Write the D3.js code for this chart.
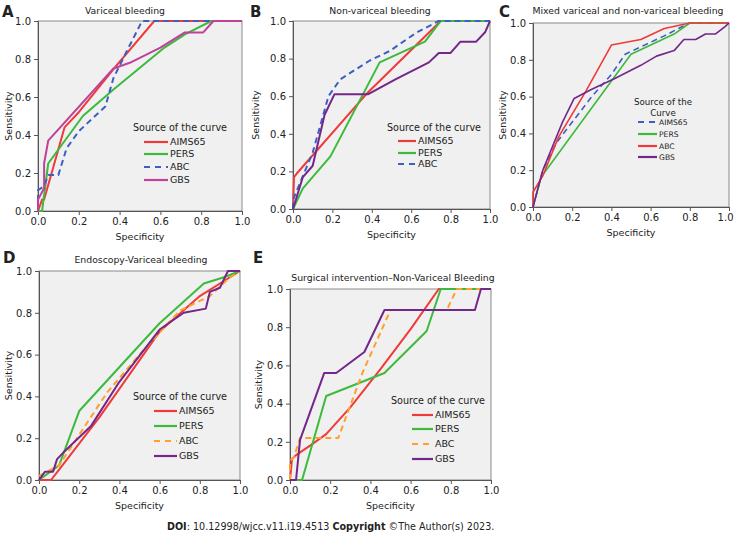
<!DOCTYPE html>
<html>
<head>
<meta charset="utf-8">
<script src="https://cdn.jsdelivr.net/npm/d3@7"></script>
<style>
  body { margin: 0; background: #fff; }
  text { font-family: "DejaVu Sans", Verdana, sans-serif; fill: #222; }
</style>
</head>
<body>
<div id="chart"></div>
<script>
// ticks shared by every panel
const tickValues = [0, 0.2, 0.4, 0.6, 0.8, 1.0]

// A - Variceal bleeding
const aAims65 = [[0,0],[0.02,0.06],[0.03,0.06],[0.13,0.44],[0.2,0.52],[0.38,0.76],[0.57,1],[1,1]]
const aPers = [[0,0],[0.02,0],[0.05,0.25],[0.22,0.5],[0.37,0.64],[0.62,0.86],[0.72,0.93],[0.85,1],[1,1]]
const aAbc = [[0,0],[0,0.11],[0.03,0.13],[0.05,0.19],[0.1,0.19],[0.14,0.33],[0.2,0.42],[0.33,0.55],[0.37,0.7],[0.43,0.83],[0.51,1],[1,1]]
const aGbs = [[0,0],[0,0.06],[0.03,0.12],[0.03,0.25],[0.05,0.37],[0.1,0.43],[0.37,0.75],[0.45,0.78],[0.6,0.86],[0.72,0.94],[0.81,0.94],[0.86,1],[1,1]]

// B - Non-variceal bleeding
const bAims65 = [[0,0],[0.005,0.17],[0.02,0.19],[0.38,0.62],[0.75,1],[1,1]]
const bPers = [[0,0],[0.05,0.11],[0.19,0.28],[0.44,0.78],[0.67,0.89],[0.75,1],[1,1]]
const bAbc = [[0,0],[0,0.05],[0.1,0.3],[0.18,0.6],[0.24,0.69],[0.39,0.79],[0.49,0.84],[0.63,0.94],[0.74,1],[1,1]]
const bGbs = [[0,0],[0.05,0.17],[0.1,0.23],[0.16,0.5],[0.21,0.61],[0.38,0.61],[0.52,0.69],[0.69,0.78],[0.74,0.83],[0.8,0.83],[0.85,0.89],[0.93,0.89],[0.975,0.94],[1,1]]

// C - Mixed variceal and non-variceal bleeding
const cAims65 = [[0,0],[0.05,0.2],[0.12,0.35],[0.3,0.6],[0.4,0.72],[0.47,0.83],[0.67,0.93],[0.76,0.98],[0.8,1],[1,1]]
const cPers = [[0,0],[0.04,0.16],[0.5,0.83],[0.72,0.94],[0.8,1],[1,1]]
const cAbc = [[0,0],[0,0.08],[0.05,0.17],[0.13,0.38],[0.27,0.63],[0.4,0.88],[0.55,0.91],[0.67,0.97],[0.8,1],[1,1]]
const cGbs = [[0,0],[0.05,0.2],[0.15,0.46],[0.21,0.59],[0.3,0.64],[0.42,0.7],[0.55,0.77],[0.63,0.82],[0.72,0.85],[0.77,0.91],[0.83,0.91],[0.88,0.94],[0.93,0.94],[0.98,0.98],[1,1]]

// D - Endoscopy-Variceal bleeding
const dAims65 = [[0,0],[0.06,0],[0.1,0.05],[0.3,0.3],[0.6,0.71],[0.8,0.88],[0.95,0.97],[1,1]]
const dPers = [[0,0],[0.1,0.07],[0.2,0.33],[0.6,0.75],[0.82,0.94],[0.92,0.97],[1,1]]
const dAbc = [[0,0.02],[0.1,0.07],[0.23,0.26],[0.34,0.42],[0.5,0.6],[0.7,0.81],[0.85,0.88],[0.95,0.97],[1,1]]
const dGbs = [[0,0],[0.03,0.04],[0.07,0.04],[0.09,0.1],[0.12,0.13],[0.26,0.26],[0.4,0.47],[0.6,0.72],[0.72,0.8],[0.83,0.82],[0.85,0.9],[0.9,0.92],[0.94,1],[1,1]]

// E - Surgical intervention-Non-Variceal Bleeding
const eAims65 = [[0,0],[0.01,0.11],[0.03,0.13],[0.1,0.18],[0.18,0.24],[0.3,0.38],[0.45,0.58],[0.6,0.79],[0.74,1],[1,1]]
const ePers = [[0,0],[0.06,0],[0.18,0.44],[0.47,0.56],[0.68,0.78],[0.75,1],[1,1]]
const eAbc = [[0,0],[0,0.1],[0.02,0.12],[0.05,0.22],[0.24,0.22],[0.36,0.56],[0.5,0.89],[0.78,0.89],[0.83,1],[1,1]]
const eGbs = [[0,0],[0.03,0],[0.05,0.21],[0.17,0.56],[0.23,0.56],[0.37,0.67],[0.47,0.89],[0.92,0.89],[0.95,1],[1,1]]

const RED = "#f03a3a", GREEN = "#3cba3c", BLUE = "#3f5ec4", MAGENTA = "#c0409a", PURPLE = "#74268a", ORANGE = "#ffa02a"

const panels = [
  { letter: "A", lx: 2, ly: 17, title: "Variceal bleeding", tx: 125, ty: 14,
    box: [38, 21, 242, 211], ylabX: 9,
    legend: { x: 133, y: 131, lineX: [144, 168], rows: [142, 154, 167, 180], fs: 9.5 },
    series: [
      { name: "AIMS65", data: aAims65, color: RED },
      { name: "PERS", data: aPers, color: GREEN },
      { name: "ABC", data: aAbc, color: BLUE, dash: true },
      { name: "GBS", data: aGbs, color: MAGENTA }
    ] },
  { letter: "B", lx: 250, ly: 17, title: "Non-variceal bleeding", tx: 380, ty: 14,
    box: [293, 21, 490, 209], ylabX: 256,
    legend: { x: 387, y: 131, lineX: [398, 416], rows: [141, 153, 164], fs: 9.5 },
    series: [
      { name: "AIMS65", data: bAims65, color: RED },
      { name: "PERS", data: bPers, color: GREEN },
      { name: "ABC", data: bAbc, color: BLUE, dash: true },
      { name: "", data: bGbs, color: PURPLE, noLegend: true }
    ] },
  { letter: "C", lx: 499, ly: 17, title: "Mixed variceal and non-variceal  bleeding", tx: 628, ty: 14,
    box: [533, 23, 729, 207], ylabX: 503, lastTickEnd: true,
    legend: { x: 634, y: 105, line2: "Curve", line2x: 663, line2y: 116, lineX: [638, 657], rows: [122, 134, 146, 157], fs: 7.6, tfs: 8.7 },
    series: [
      { name: "AIMS65", data: cAims65, color: BLUE, dash: true, width: 1.6 },
      { name: "PERS", data: cPers, color: GREEN, width: 1.6 },
      { name: "ABC", data: cAbc, color: RED, width: 1.6 },
      { name: "GBS", data: cGbs, color: PURPLE, width: 1.6 }
    ] },
  { letter: "D", lx: 3, ly: 263, title: "Endoscopy-Variceal bleeding", tx: 141, ty: 263,
    box: [39, 271, 240, 480], ylabX: 9,
    legend: { x: 133, y: 400, lineX: [154, 177], rows: [411, 426, 441, 456], fs: 9.5 },
    series: [
      { name: "AIMS65", data: dAims65, color: RED },
      { name: "PERS", data: dPers, color: GREEN },
      { name: "ABC", data: dAbc, color: ORANGE, dash: true },
      { name: "GBS", data: dGbs, color: PURPLE }
    ] },
  { letter: "E", lx: 253, ly: 263, title: "Surgical intervention\u2013Non-Variceal Bleeding", tx: 393, ty: 281,
    box: [290, 289, 491, 480], ylabX: 259,
    legend: { x: 391, y: 404, lineX: [412, 433], rows: [415, 429, 444, 459], fs: 9.5 },
    series: [
      { name: "AIMS65", data: eAims65, color: RED },
      { name: "PERS", data: ePers, color: GREEN },
      { name: "ABC", data: eAbc, color: ORANGE, dash: true },
      { name: "GBS", data: eGbs, color: PURPLE }
    ] }
]

const svg = d3.select("#chart").append("svg").attr("width", 734).attr("height", 537)

panels.forEach(p => {
  const [x0, y0, x1, y1] = p.box
  const x = d3.scaleLinear().domain([0, 1]).range([x0, x1])
  const y = d3.scaleLinear().domain([0, 1]).range([y1, y0])
  const g = svg.append("g")

  g.append("rect").attr("x", x0).attr("y", y0).attr("width", x1 - x0).attr("height", y1 - y0)
    .attr("fill", "#f0f0f0").attr("stroke", "#8a8a8a").attr("stroke-width", 1)

  const xAxis = g.append("g").attr("transform", `translate(0,${y1})`)
    .call(d3.axisBottom(x).tickValues(tickValues).tickFormat(d3.format(".1f")).tickSize(4).tickPadding(3))
  const yAxis = g.append("g").attr("transform", `translate(${x0},0)`)
    .call(d3.axisLeft(y).tickValues(tickValues).tickFormat(d3.format(".1f")).tickSize(4).tickPadding(3))
  ;[xAxis, yAxis].forEach(a => {
    a.select(".domain").attr("stroke", "#555")
    a.selectAll(".tick line").attr("stroke", "#555")
    a.selectAll("text").attr("font-size", 10).attr("fill", "#222")
      .style("font-family", "DejaVu Sans, sans-serif")
  })
  if (p.lastTickEnd) {
    // the last label sits against the page edge
    xAxis.selectAll(".tick").filter(d => d === 1).select("text")
      .attr("text-anchor", "end").attr("x", 4)
  }

  const line = d3.line().x(d => x(d[0])).y(d => y(d[1]))
  p.series.forEach(s => {
    g.append("path").datum(s.data).attr("d", line).attr("fill", "none")
      .attr("stroke", s.color).attr("stroke-width", s.width || 2)
      .attr("stroke-linejoin", "round")
      .attr("stroke-dasharray", s.dash ? "6,4" : null)
  })

  // titles
  g.append("text").attr("x", p.lx).attr("y", p.ly).text(p.letter)
    .attr("font-size", 15).attr("font-weight", "bold").attr("fill", "#000")
  g.append("text").attr("x", p.tx).attr("y", p.ty).attr("text-anchor", "middle")
    .attr("font-size", 9.3).text(p.title)
  g.append("text").attr("x", (x0 + x1) / 2).attr("y", y1 + 29).attr("text-anchor", "middle")
    .attr("font-size", 9.5).text("Specificity")
  g.append("text").attr("transform", `translate(${p.ylabX},${(y0 + y1) / 2}) rotate(-90)`)
    .attr("text-anchor", "middle").attr("dy", "0.35em").attr("font-size", 9.5).text("Sensitivity")

  // legend
  const L = p.legend
  g.append("text").attr("x", L.x).attr("y", L.y).attr("font-size", L.tfs || 9.6)
    .text(L.line2 ? "Source of the" : "Source of the curve")
  if (L.line2) {
    g.append("text").attr("x", L.line2x).attr("y", L.line2y).attr("text-anchor", "middle")
      .attr("font-size", L.tfs).text(L.line2)
  }
  p.series.filter(s => !s.noLegend).forEach((s, i) => {
    const ry = L.rows[i]
    g.append("line").attr("x1", L.lineX[0]).attr("x2", L.lineX[1]).attr("y1", ry).attr("y2", ry)
      .attr("stroke", s.color).attr("stroke-width", 2.2)
      .attr("stroke-dasharray", s.dash ? "6,5" : null)
    g.append("text").attr("x", L.lineX[1] + 2).attr("y", ry).attr("dy", "0.35em")
      .attr("font-size", L.fs).text(s.name)
  })
})

// footer
const foot = svg.append("text").attr("x", 167).attr("y", 530).attr("font-size", 9.6)
foot.append("tspan").attr("font-weight", "bold").text("DOI")
foot.append("tspan").text(": 10.12998/wjcc.v11.i19.4513 ")
foot.append("tspan").attr("font-weight", "bold").text("Copyright")
foot.append("tspan").text(" \u00a9The Author(s) 2023.")
</script>
</body>
</html>
